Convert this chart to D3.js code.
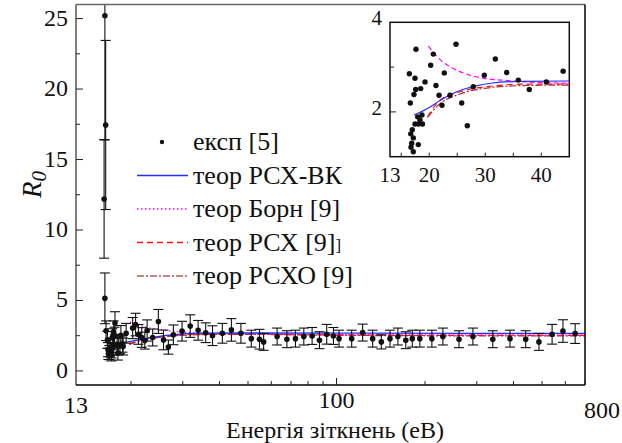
<!DOCTYPE html>
<html>
<head>
<meta charset="utf-8">
<script src="https://cdn.jsdelivr.net/npm/d3@7"></script>
</head>
<body style="margin:0">
<script>
// --- experimental data [5]: energy (eV), R0, error ---
const expE = [16.3, 16.4, 16.2, 16.3,
  17.64, 24.78, 20.73, 31.8, 20.26, 43.9, 16.45, 22.69, 33.83, 29.83,
  17.46, 19.25, 35.9, 40.9, 21.2, 27.87, 18.48, 17.58, 37.86, 17.28,
  21.75, 23.7, 16.63, 25.8, 22.28, 18.71, 17.94, 18.35, 17.46, 18.1,
  18.8, 26.8, 16.98, 16.7, 17.16, 16.87, 18.05, 16.75, 17.16,
  47.3, 51.3, 54.7, 56.5, 62.8, 67.8, 72.5, 77.4, 82.6, 87.5, 92.6, 97.6,
  102, 112.6, 122.7, 132.7, 142, 152, 161.7, 172, 181, 192, 211, 230,
  261, 291, 340, 389, 440, 488, 541, 589, 648];
const expR = [25.2, 17.45, 12.2, 5.15,
  3.40, 3.51, 3.29, 3.18, 3.04, 2.91, 2.85, 2.87, 2.88, 2.82,
  2.75, 2.67, 2.71, 2.67, 2.59, 2.56, 2.52, 2.50, 2.50, 2.39,
  2.37, 2.37, 2.20, 2.20, 2.15, 1.93, 1.89, 1.82, 1.73, 1.73,
  1.73, 1.69, 1.60, 1.51, 1.42, 1.30, 1.27, 1.21, 1.11,
  2.67, 2.29, 2.25, 2.06, 2.44, 2.25, 2.29, 2.44, 2.48, 2.18, 2.60, 2.48,
  2.29, 2.29, 2.72, 2.29, 2.06, 2.29, 2.44, 2.18, 2.29, 2.29, 2.29, 2.44,
  2.25, 2.44, 2.25, 2.29, 2.25, 2.06, 2.60, 2.83, 2.65];
const expErr = [8.8, 6.0, 4.2, 1.8,
  0.8, 0.85, 0.8, 0.8, 0.75, 0.8, 0.7, 0.75, 0.7, 0.7,
  0.8, 0.7, 0.7, 0.7, 0.7, 0.7, 0.7, 0.6, 0.7, 0.6,
  0.7, 0.6, 0.6, 0.7, 0.6, 0.6, 0.6, 0.6, 0.6, 0.6,
  0.6, 0.5, 0.6, 0.5, 0.5, 0.5, 0.5, 0.4, 0.4,
  0.7, 0.6, 0.7, 0.6, 0.6, 0.6, 0.6, 0.6, 0.6, 0.6, 0.7, 0.6,
  0.6, 0.6, 0.6, 0.6, 0.5, 0.6, 0.6, 0.6, 0.6, 0.6, 0.6, 0.6,
  0.6, 0.6, 0.6, 0.6, 0.6, 0.6, 0.7, 0.8, 0.7];

// --- theory curves ---
const rcxVkE = [17.3, 20, 22, 24, 26, 28, 31, 36, 45, 100, 300, 700];
const rcxVkR = [1.93, 2.10, 2.26, 2.40, 2.50, 2.57, 2.64, 2.68, 2.69, 2.68, 2.66, 2.66];
const bornE = [19.85, 22, 24.3, 27.3, 30.3, 34, 37.4, 45, 100, 300, 700];
const bornR = [3.47, 3.16, 2.97, 2.82, 2.74, 2.70, 2.67, 2.64, 2.58, 2.55, 2.55];
const rcxE = [19.7, 22, 25.5, 31.4, 37.4, 45, 100, 300, 700];
const rcxR = [1.89, 2.27, 2.45, 2.58, 2.62, 2.62, 2.55, 2.52, 2.52];
const rcxoE = [19.7, 22, 25.5, 31.4, 37.4, 45, 100, 300, 700];
const rcxoR = [1.88, 2.19, 2.40, 2.55, 2.59, 2.60, 2.53, 2.49, 2.49];

// --- ticks ---
const xTickVals = [13, 100, 800];
const xMinorVals = [20, 30, 40, 50, 60, 70, 80, 90, 200, 300, 400, 500, 600, 700];
const yTickVals = [0, 5, 10, 15, 20, 25];
const yMinorVals = [2.5, 7.5, 12.5, 17.5, 22.5];
const inXTicks = [13, 20, 30, 40];
const inXMinor = [15, 25, 35];
const inYTicks = [2, 4];
const inYMinor = [3];

const legendItems = [
  { label: "експ [5]", type: "dot" },
  { label: "теор РСХ-ВК", color: "#1f2fff", dash: null },
  { label: "теор Борн [9]", color: "#ff00ff", dash: "1.5,2.5" },
  { label: "теор РСХ [9]", extra: "]", color: "#ff1010", dash: "6,4" },
  { label: "теор РСХО [9]", color: "#b06060", dash: "7,2,2,2" }
];

const W = 622, H = 443;
const FONT = "'Liberation Serif'";
const Y_TOP = 26;
const exp = expE.map((e, i) => ({ e: e, r: expR[i], err: expErr[i] }));
const zipc = (E, R) => E.map((e, i) => ({ e: e, r: R[i] }));
const curves = [
  { data: zipc(rcxoE, rcxoR), color: "#a03030", dash: "7,2,2,2" },
  { data: zipc(rcxE, rcxR), color: "#ff1010", dash: "6,4" },
  { data: zipc(bornE, bornR), color: "#ff00ff", dash: "1.5,2.5" },
  { data: zipc(rcxVkE, rcxVkR), color: "#1f2fff", dash: null }
];

const svg = d3.select("body").append("svg")
  .attr("width", W).attr("height", H)
  .attr("font-family", FONT);

// --- main scales ---
const x = d3.scaleLog().domain([13, 700]).range([76, 585]);
const y = d3.scaleLinear().domain([-1, Y_TOP]).range([385, 4.5]);

const main = svg.append("g");

// theory lines
const line = d3.line().x(d => x(d.e)).y(d => y(d.r)).curve(d3.curveMonotoneX);
curves.forEach(c => {
  main.append("path").datum(c.data)
    .attr("fill", "none").attr("stroke", c.color).attr("stroke-width", 1.3)
    .attr("stroke-dasharray", c.dash).attr("d", line);
});

// error bars (the top one runs off the frame, so no cap there)
const hi = d => Math.min(d.r + d.err, Y_TOP);
const eb = main.selectAll(".eb").data(exp).enter().append("g").attr("class", "eb")
  .attr("stroke", "#111").attr("stroke-width", 1.1);
eb.append("line").attr("x1", d => x(d.e)).attr("x2", d => x(d.e))
  .attr("y1", d => y(d.r - d.err)).attr("y2", d => y(hi(d)));
eb.append("line").attr("x1", d => x(d.e) - 5).attr("x2", d => x(d.e) + 5)
  .attr("y1", d => y(d.r - d.err)).attr("y2", d => y(d.r - d.err));
eb.filter(d => d.r + d.err < Y_TOP).append("line")
  .attr("x1", d => x(d.e) - 5).attr("x2", d => x(d.e) + 5)
  .attr("y1", d => y(d.r + d.err)).attr("y2", d => y(d.r + d.err));

main.selectAll(".dot").data(exp).enter().append("circle")
  .attr("cx", d => x(d.e)).attr("cy", d => y(d.r)).attr("r", 2.8).attr("fill", "#111");

// --- frame and ticks ---
svg.append("line").attr("x1", 76).attr("x2", 585).attr("y1", 4.5).attr("y2", 4.5).attr("stroke", "#666").attr("stroke-width", 1.5);
svg.append("line").attr("x1", 76).attr("x2", 76).attr("y1", 4.5).attr("y2", 385).attr("stroke", "#555").attr("stroke-width", 1.5);
svg.append("line").attr("x1", 585).attr("x2", 585).attr("y1", 4.5).attr("y2", 385).attr("stroke", "#000").attr("stroke-width", 1.5);
svg.append("line").attr("x1", 76).attr("x2", 585).attr("y1", 385).attr("y2", 385).attr("stroke", "#000").attr("stroke-width", 1.5);

const tk = svg.append("g").attr("stroke", "#222").attr("stroke-width", 1);
yTickVals.forEach(v => tk.append("line").attr("x1", 76).attr("x2", 83).attr("y1", y(v)).attr("y2", y(v)));
yMinorVals.forEach(v => tk.append("line").attr("x1", 76).attr("x2", 80).attr("y1", y(v)).attr("y2", y(v)));
xMinorVals.forEach(v => tk.append("line").attr("x1", x(v)).attr("x2", x(v)).attr("y1", 385).attr("y2", 381));
tk.append("line").attr("x1", x(100)).attr("x2", x(100)).attr("y1", 385).attr("y2", 378);

svg.selectAll(".ylab").data(yTickVals).enter().append("text")
  .attr("x", 68).attr("y", d => y(d) + 7).attr("text-anchor", "end")
  .attr("font-family", FONT).attr("font-size", 24).attr("fill", "#111").text(d => d);

const xLabY = { 13: 413, 100: 408, 800: 418 };
svg.selectAll(".xlab").data(xTickVals).enter().append("text")
  .attr("x", d => x(d)).attr("y", d => xLabY[d]).attr("text-anchor", "middle")
  .attr("font-family", FONT).attr("font-size", 24).attr("fill", "#111").text(d => d);

svg.append("text").attr("x", 335).attr("y", 438).attr("text-anchor", "middle")
  .attr("font-family", FONT).attr("font-size", 24).attr("fill", "#111").text("Енергія зіткнень (еВ)");

const yt = svg.append("text").attr("transform", "translate(41,198) rotate(-90)")
  .attr("font-family", FONT).attr("font-size", 27).attr("font-style", "italic").attr("fill", "#111");
yt.append("tspan").text("R");
yt.append("tspan").attr("font-size", 21).attr("dy", 5).text("0");

// --- legend ---
const lg = svg.append("g");
legendItems.forEach((it, i) => {
  const ly = 142 + i * 33.5;
  if (it.type === "dot") {
    lg.append("circle").attr("cx", 162).attr("cy", ly).attr("r", 2.2).attr("fill", "#111");
  } else {
    lg.append("line").attr("x1", 137).attr("x2", 188).attr("y1", ly).attr("y2", ly)
      .attr("stroke", it.color).attr("stroke-width", 1.3).attr("stroke-dasharray", it.dash);
  }
  const t = lg.append("text").attr("x", 193).attr("y", ly + 8)
    .attr("font-family", FONT).attr("font-size", 26).attr("fill", "#111").text(it.label);
  if (it.extra) t.append("tspan").attr("font-size", 17).text(it.extra);
});

// --- inset ---
const ix = d3.scaleLinear().domain([13, 45]).range([390, 569.3]);
const iy = d3.scaleLinear().domain([1, 4]).range([156.7, 22.3]);
const inset = svg.append("g");
inset.append("rect").attr("x", 390).attr("y", 22.3).attr("width", 179.3).attr("height", 134.4)
  .attr("fill", "#fff").attr("stroke", "#111").attr("stroke-width", 1.5);
const iline = d3.line().x(d => ix(d.e)).y(d => iy(d.r)).curve(d3.curveMonotoneX);
const insetDash = { "1.5,2.5": "5,3" };
curves.forEach(c => {
  inset.append("path").datum(c.data.filter(d => d.e <= 45))
    .attr("fill", "none").attr("stroke", c.color).attr("stroke-width", 1.2)
    .attr("stroke-dasharray", insetDash[c.dash] || c.dash).attr("d", iline);
});
inset.selectAll(".idot").data(exp.filter(d => d.e <= 45 && d.r <= 4)).enter().append("circle")
  .attr("cx", d => ix(d.e)).attr("cy", d => iy(d.r)).attr("r", 2.7).attr("fill", "#111");

const itk = inset.append("g").attr("stroke", "#222").attr("stroke-width", 1);
inXTicks.concat(inXMinor).filter(v => v > 13).forEach(v =>
  itk.append("line").attr("x1", ix(v)).attr("x2", ix(v)).attr("y1", 156.7).attr("y2", 152.7));
inYTicks.filter(v => v < 4).forEach(v =>
  itk.append("line").attr("x1", 390).attr("x2", 396).attr("y1", iy(v)).attr("y2", iy(v)));
inYMinor.forEach(v =>
  itk.append("line").attr("x1", 390).attr("x2", 394).attr("y1", iy(v)).attr("y2", iy(v)));

inset.selectAll(".ixl").data(inXTicks).enter().append("text")
  .attr("x", d => ix(d)).attr("y", 182).attr("text-anchor", "middle")
  .attr("font-family", FONT).attr("font-size", 21).attr("fill", "#111").text(d => d);
inset.selectAll(".iyl").data(inYTicks).enter().append("text")
  .attr("x", 382).attr("y", d => iy(d) + 3).attr("text-anchor", "end")
  .attr("font-family", FONT).attr("font-size", 21).attr("fill", "#111").text(d => d);
</script>
</body>
</html>
